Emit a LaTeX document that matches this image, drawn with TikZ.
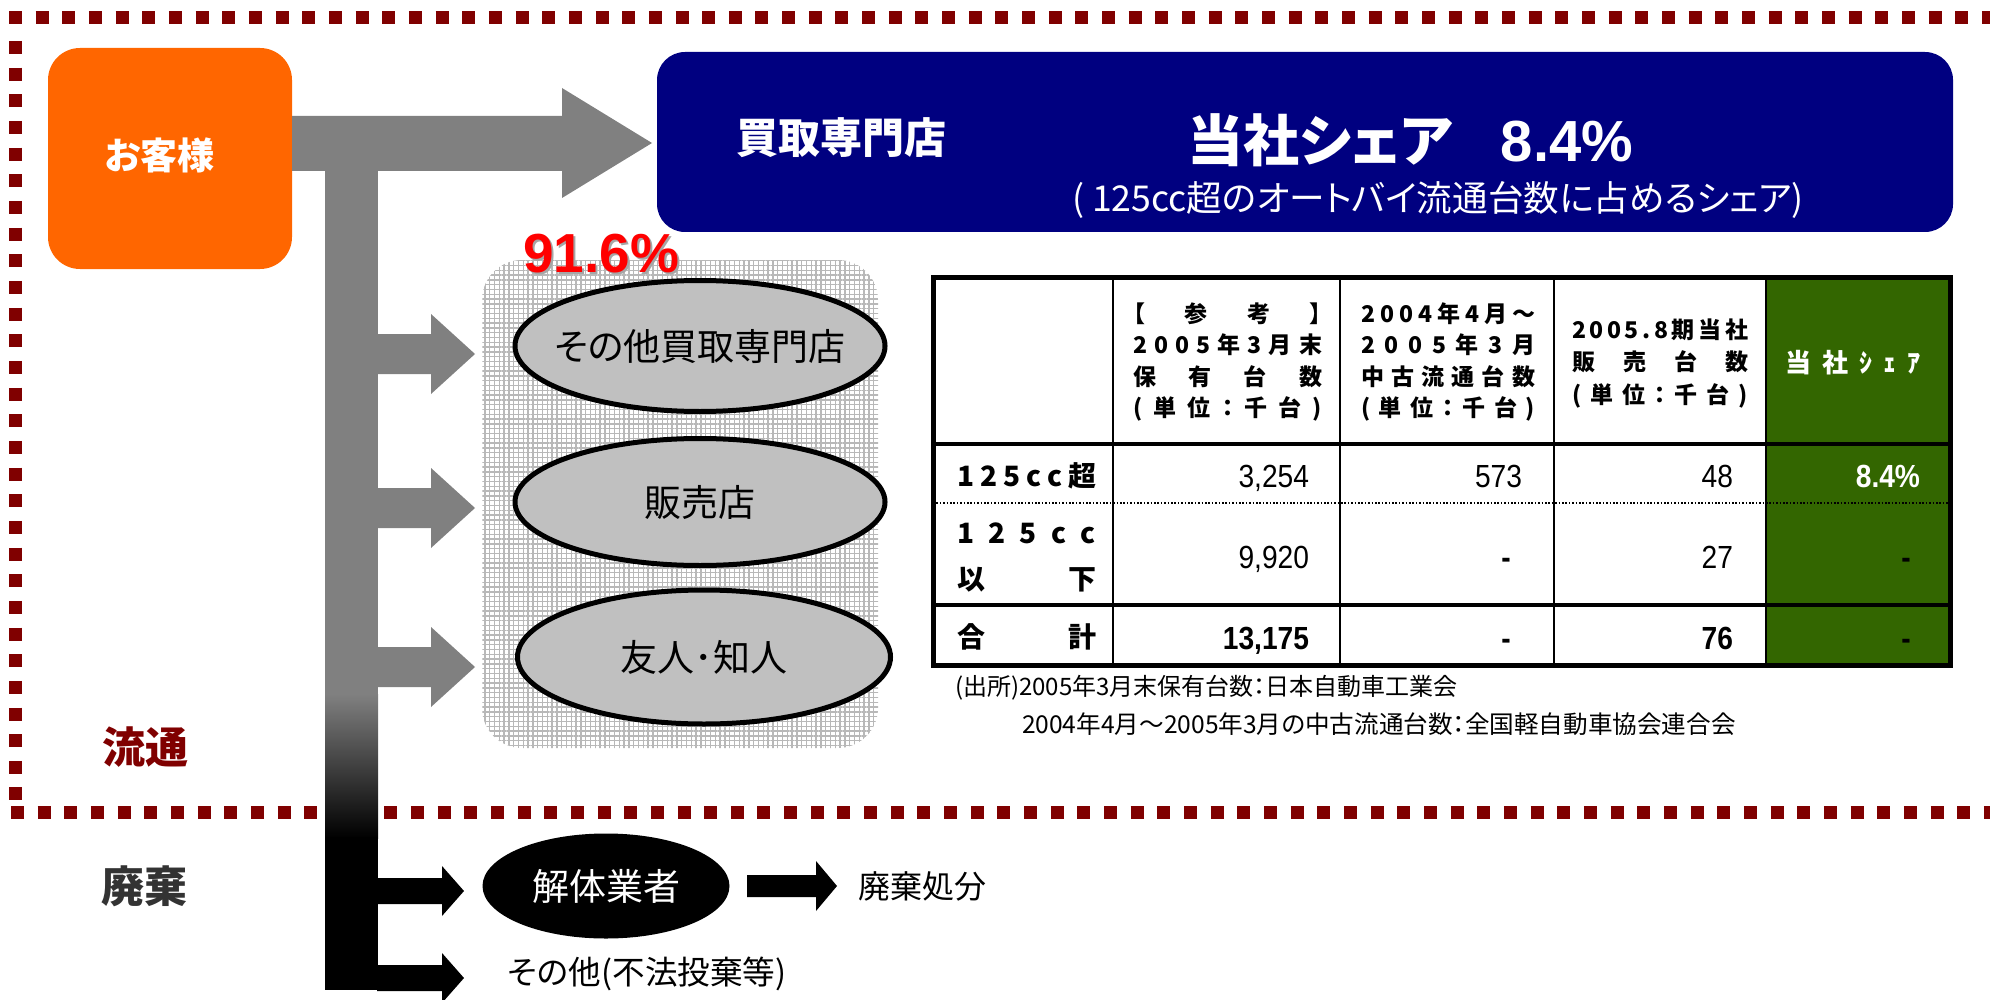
\documentclass[tikz,border=0pt]{standalone}
\usepackage{fontspec}
\setmainfont{Liberation Sans}
\newfontfamily\jpf[RawFeature=+palt]{Noto Sans CJK JP}
\newfontfamily\numfont[FakeStretch=0.88]{Liberation Sans}
\usetikzlibrary{shapes.geometric,patterns.meta}
\definecolor{borderred}{HTML}{800000}
\definecolor{custorange}{HTML}{FF6600}
\definecolor{navyblue}{HTML}{000080}
\definecolor{arrowgrey}{HTML}{808080}
\definecolor{ellgrey}{HTML}{C0C0C0}
\definecolor{sharegreen}{HTML}{336600}
\definecolor{hatchgrey}{HTML}{B8B8B8}
\definecolor{darktext}{HTML}{333333}
\newcommand{\fsz}[1]{\fontsize{#1pt}{#1pt}\selectfont}
\newcommand{\distr}[2]{\hbox to #1pt{#2}}
\tikzset{
  lbl/.style={inner sep=0pt, outer sep=0pt},
  dotline/.style={borderred, line width=6.5pt, dash pattern=on 6.5pt off 6.83pt},
  ell/.style={ellipse, draw=black, line width=2.5pt, fill=ellgrey, inner sep=0pt},
  elltext/.style={lbl, font=\jpf\fsz{18.5}},
  garrow/.style={fill=arrowgrey},
  barrow/.style={fill=black},
  hdr/.style={lbl, anchor=west, font=\jpf\bfseries\fsz{11.5}},
  rowlab/.style={lbl, anchor=west, font=\jpf\bfseries\fsz{14}},
  val/.style={lbl, anchor=base east, font=\numfont\fsz{16}},
  valb/.style={lbl, anchor=base east, font=\numfont\bfseries\fsz{16}},
  dashval/.style={lbl, anchor=base, font=\numfont\bfseries\fsz{16}},
  pctstyle/.style={lbl, anchor=base, font=\bfseries\fsz{27.5}},
}
\begin{document}
\begin{tikzpicture}[x=0.5pt,y=-0.5pt]
\useasboundingbox (0,0) rectangle (1990,1000);

% dotted frame
\draw[dotline] (9,18) -- (1990,18);
\draw[dotline] (15,41) -- (15,801);
\draw[dotline] (11,812) -- (1990,812);

% customer box
\node[lbl, fill=custorange, rounded corners=16pt, minimum width=122pt, minimum height=110.5pt] (cust) at (170,158.5) {};
\node[lbl, text=white, font=\jpf\bfseries\fsz{18.5}] (custt) at (160,155) {お客様};

% blue box
\node[lbl, fill=navyblue, rounded corners=14pt, minimum width=648pt, minimum height=90pt] (shop) at (1305,142) {};
\node[lbl, text=white, font=\jpf\bfseries\fsz{21}] (shopt) at (841,138) {買取専門店};
\node[lbl, text=white] (share) at (1410,140) {{\jpf\bfseries\fsz{28}当社シェア}\hspace{24pt}{\bfseries\fsz{29}8.4\%}};
\node[lbl, text=white, font=\jpf\fsz{17.8}] (sub) at (1438,200) {( 125cc超のオートバイ流通台数に占めるシェア)};

% main grey arrow and bar
\fill[garrow] (292,116) -- (562,116) -- (562,88) -- (652,143) -- (562,198) -- (562,171) -- (292,171) -- cycle;
\fill[garrow] (325,143) rectangle (378,694);
\shade[top color=arrowgrey, bottom color=black] (325,694) rectangle (378,838);
\fill[black] (325,837) rectangle (378,990);

% grey branch arrows
\foreach \t in {354,508,667}{
  \fill[garrow] (377,\t-20) -- (431,\t-20) -- (431,\t-40) -- (475,\t) -- (431,\t+40) -- (431,\t+20) -- (377,\t+20) -- cycle;
}
% black branch arrows
\foreach \t in {891,978}{
  \fill[barrow] (377,\t-13) -- (442,\t-13) -- (442,\t-25) -- (464,\t) -- (442,\t+25) -- (442,\t+13) -- (377,\t+13) -- cycle;
}

% hatched group
\path[fill=white, rounded corners=20pt] (482,260) rectangle (878,748);
\path[pattern={Hatch[distance=2.4pt, line width=0.7pt]}, pattern color=hatchgrey, rounded corners=20pt] (482,260) rectangle (878,748);
\node[pctstyle, text=black!35] (pctshadow) at (603,274) {91.6\%};
\node[pctstyle, text=red] (pct) at (601,272) {91.6\%};

\node[ell, minimum width=185pt, minimum height=65.5pt] (e1) at (700,346) {};
\node[elltext] (e1t) at (e1.center) {その他買取専門店};
\node[ell, minimum width=185pt, minimum height=63.5pt] (e2) at (700,502) {};
\node[elltext] (e2t) at (e2.center) {販売店};
\node[ell, minimum width=186.5pt, minimum height=67pt] (e3) at (704,657) {};
\node[elltext] (e3t) at (e3.center) {友人･知人};

% disposal
\node[ellipse, fill=black, inner sep=0pt, minimum width=123.5pt, minimum height=52.5pt] (dis) at (606,886) {};
\node[elltext, text=white] (dist) at (dis.center) {解体業者};
\fill[barrow] (747,875) -- (816,875) -- (816,861) -- (837,886) -- (816,911) -- (816,897) -- (747,897) -- cycle;
\node[lbl, anchor=west, font=\jpf\fsz{16}] (haiki) at (858,886) {廃棄処分};
\node[lbl, anchor=west, font=\jpf\fsz{16.3}] (other) at (508,974) {その他(不法投棄等)};

% side labels
\node[lbl, text=borderred, font=\jpf\bfseries\fsz{21.5}] (ryutsu) at (145,747) {流通};
\node[lbl, text=darktext, font=\jpf\bfseries\fsz{21.5}] (haikiL) at (144,886) {廃棄};

% table
\fill[sharegreen] (1766,277) rectangle (1950,665);
\draw[line width=1pt] (1113,277) -- (1113,665) (1340,277) -- (1340,665) (1554,277) -- (1554,665) (1766,277) -- (1766,665);
\draw[line width=0.8pt, dash pattern=on 0.8pt off 0.9pt] (933,503) -- (1950,503);
\draw[line width=2.2pt] (933,444) -- (1950,444) (933,605) -- (1950,605);
\draw[line width=2.5pt] (933,277) rectangle (1950,665);

\node[hdr] (h21) at (1133,314) {\distr{94.5}{【\hfil 参\hfil 考\hfil 】}};
\node[hdr] (h22) at (1133,345) {\distr{94.5}{2\hfil 0\hfil 0\hfil 5\hfil 年\hfil 3\hfil 月\hfil 末}};
\node[hdr] (h23) at (1133,377) {\distr{94.5}{保\hfil 有\hfil 台\hfil 数}};
\node[hdr] (h24) at (1133,409) {\distr{94.5}{(\hfil 単\hfil 位\hfil ：\hfil 千\hfil 台\hfil )}};

\node[hdr] (h31) at (1361,314) {\distr{87}{2\hfil 0\hfil 0\hfil 4\hfil 年\hfil 4\hfil 月\hfil ～}};
\node[hdr] (h32) at (1361,345) {\distr{87}{2\hfil 0\hfil 0\hfil 5\hfil 年\hfil 3\hfil 月}};
\node[hdr] (h33) at (1361,377) {\distr{87}{中\hfil 古\hfil 流\hfil 通\hfil 台\hfil 数}};
\node[hdr] (h34) at (1361,409) {\distr{87}{(\hfil 単\hfil 位\hfil ：\hfil 千\hfil 台\hfil )}};

\node[hdr] (h41) at (1572,330) {\distr{88}{2\hfil 0\hfil 0\hfil 5\hfil .\hfil 8\hfil 期\hfil 当\hfil 社}};
\node[hdr] (h42) at (1572,362) {\distr{88}{販\hfil 売\hfil 台\hfil 数}};
\node[hdr] (h43) at (1572,396) {\distr{88}{(\hfil 単\hfil 位\hfil ：\hfil 千\hfil 台\hfil )}};

\node[hdr, text=white, font=\jpf\bfseries\fsz{13}] (h5) at (1785,363) {\distr{67.5}{当\hfil 社\hfil ｼ\hfil ｪ\hfil ｱ}};

\node[rowlab] (r1) at (957,476) {\distr{69.5}{1\hfil 2\hfil 5\hfil c\hfil c\hfil 超}};
\node[rowlab] (r2a) at (957,533) {\distr{69.5}{1\hfil 2\hfil 5\hfil c\hfil c}};
\node[rowlab] (r2b) at (957,580) {\distr{69.5}{以\hfil 下}};
\node[rowlab] (r3) at (957,637) {\distr{69.5}{合\hfil 計}};

\node[val] (v11) at (1309,487) {3,254};
\node[val] (v12) at (1522,487) {573};
\node[val] (v13) at (1733,487) {48};
\node[valb, text=white] (v14) at (1920,487) {8.4\%};

\node[val] (v21) at (1309,568) {9,920};
\node[dashval] (v22) at (1506,568) {-};
\node[val] (v23) at (1733,568) {27};
\node[dashval] (v24) at (1906,568) {-};

\node[valb] (v31) at (1309,649) {13,175};
\node[dashval] (v32) at (1506,649) {-};
\node[valb] (v33) at (1733,649) {76};
\node[dashval] (v34) at (1906,649) {-};

% source notes
\node[lbl, anchor=west, font=\jpf\fsz{12}] (src1) at (955,688) {(出所)2005年3月末保有台数：日本自動車工業会};
\node[lbl, anchor=west, font=\jpf\fsz{12.3}] (src2) at (1022,724) {2004年4月～2005年3月の中古流通台数：全国軽自動車協会連合会};

\end{tikzpicture}
\end{document}
